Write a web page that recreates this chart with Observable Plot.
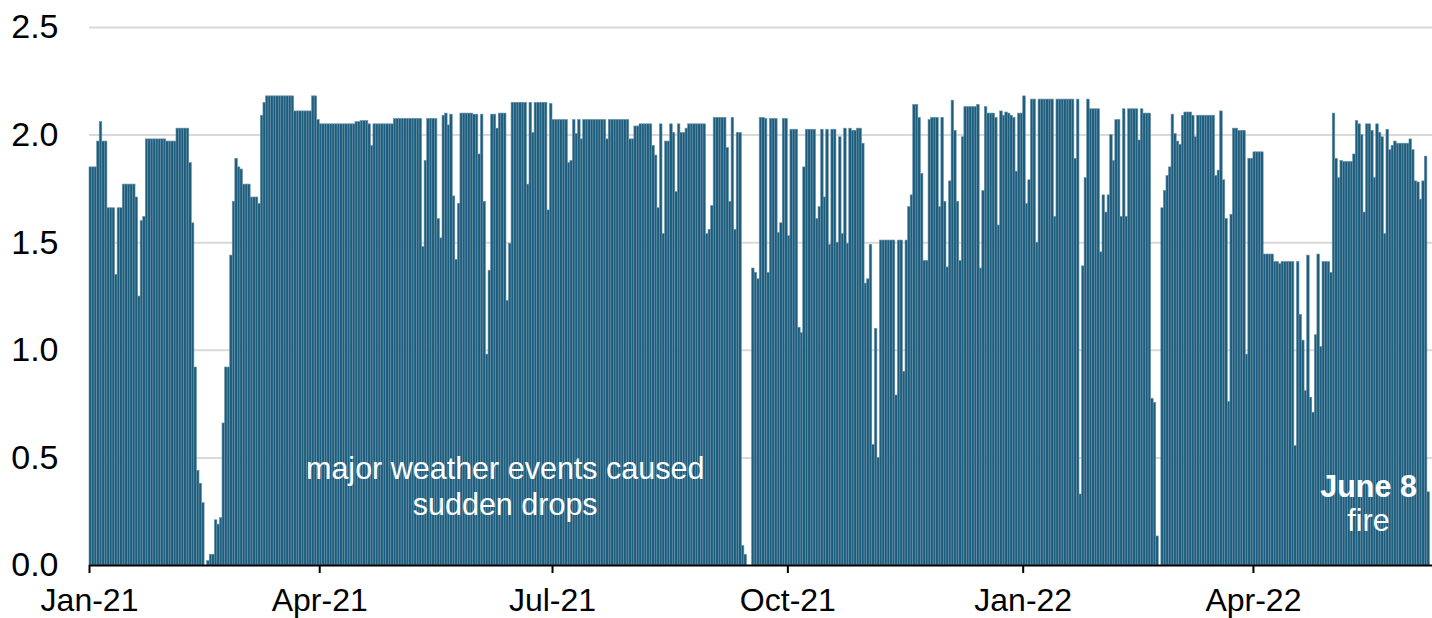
<!DOCTYPE html>
<html><head><meta charset="utf-8">
<script src="https://cdn.jsdelivr.net/npm/d3@7"></script>
<script src="https://cdn.jsdelivr.net/npm/@observablehq/plot@0.6"></script>
<style>
html,body{margin:0;padding:0;background:#fff;}
#chart{width:1432px;height:618px;overflow:hidden;}
</style></head><body><div id="chart"></div>
<script>
// Daily values starting 2021-01-01, one array per quarter
const startDate = "2021-01-01";
const q1_2021 = [
1.85,1.85,1.85,1.97,2.06,1.97,1.97,1.66,1.66,1.66,
1.35,1.66,1.66,1.77,1.77,1.77,1.77,1.77,1.71,1.25,
1.60,1.62,1.98,1.98,1.98,1.98,1.98,1.98,1.98,1.98,
1.97,1.97,1.97,1.97,2.03,2.03,2.03,2.03,2.03,1.87,
1.59,0.92,0.44,0.38,0.29,0.00,0.02,0.05,0.05,0.21,
0.19,0.22,0.66,0.92,0.92,1.44,1.69,1.89,1.85,1.84,
1.77,1.77,1.77,1.71,1.71,1.71,1.68,2.09,2.15,2.18,
2.18,2.18,2.18,2.18,2.18,2.18,2.18,2.18,2.18,2.18,
2.11,2.11,2.11,2.11,2.11,2.11,2.11,2.18,2.18,2.07];
const q2_2021 = [
2.05,2.05,2.05,2.05,2.05,2.05,2.05,2.05,2.05,2.05,
2.05,2.05,2.05,2.05,2.06,2.06,2.065,2.065,2.065,2.05,
1.95,2.05,2.05,2.05,2.05,2.05,2.05,2.05,2.05,2.075,
2.075,2.075,2.075,2.075,2.075,2.075,2.075,2.075,2.075,2.075,
1.48,1.88,2.075,2.075,2.075,2.075,1.61,1.52,2.09,2.10,
2.045,2.095,1.715,1.42,1.68,2.10,2.10,2.10,2.10,2.10,
2.095,2.095,1.91,2.095,1.69,0.98,1.37,2.095,2.095,2.03,
2.10,2.10,2.10,1.23,1.495,2.15,2.15,2.15,2.15,2.15,
2.15,1.77,2.15,2.01,2.15,2.15,2.15,2.15,2.15,1.65,
2.145];
const q3_2021 = [
2.07,2.07,2.07,2.07,2.07,2.07,1.87,1.88,2.07,
2.005,2.07,1.98,2.07,2.07,2.07,2.07,2.07,2.07,2.07,
2.07,2.07,1.98,2.07,2.07,2.07,2.07,2.07,2.07,2.07,
2.07,1.98,1.98,2.04,2.04,2.05,2.05,2.05,2.05,2.05,
1.95,1.905,1.66,2.05,1.54,1.97,1.97,2.05,2.01,1.735,
2.05,2.01,2.01,2.03,2.05,2.05,2.05,2.05,2.05,2.05,
2.05,1.54,1.56,1.67,2.08,2.08,2.08,2.08,2.08,1.94,
1.69,2.08,1.56,2.01,2.01,0.09,0.05,0.00,0.00,1.38,
1.36,1.33,2.08,2.08,2.075,1.36,2.075,2.075,2.075,1.545,
1.59,2.075,2.075];
const q4_2021 = [
1.53,2.025,2.025,2.025,1.105,1.08,1.85,
2.025,2.025,2.025,2.025,1.61,1.665,2.025,1.71,2.025,1.49,
2.025,2.025,1.50,1.99,1.54,2.03,1.495,2.03,2.02,2.02,
2.03,2.03,1.96,1.31,1.33,1.49,0.56,1.10,0.50,1.51,
1.51,1.51,1.51,1.51,1.51,0.79,1.51,1.51,0.90,1.51,
1.665,1.72,2.14,2.14,2.08,1.82,1.415,1.415,2.07,2.08,
2.08,2.08,1.665,2.08,1.69,1.385,1.785,2.16,2.02,1.69,
1.415,1.99,2.13,2.13,2.13,2.13,2.13,2.14,1.38,1.74,
2.13,2.10,2.10,2.10,2.08,1.58,2.11,2.09,2.105,2.10,
2.09,2.08,1.83,2.10,2.10];
const q1_2022 = [
2.18,1.68,1.79,2.165,2.165,
1.50,2.165,2.165,2.165,2.165,2.165,2.165,1.62,2.165,2.165,
2.165,2.165,2.165,2.165,2.165,1.89,2.165,0.33,1.39,1.80,
2.165,2.12,2.12,2.12,2.12,1.455,1.72,1.64,1.72,2.00,
1.88,2.07,2.07,1.62,2.12,1.62,2.12,2.12,2.12,2.12,
1.975,2.12,2.10,2.10,2.10,0.775,0.755,0.135,0.00,1.66,
1.74,1.81,1.85,2.095,2.005,1.97,1.955,2.09,2.105,2.105,
2.105,2.09,1.99,2.09,2.09,2.09,2.09,2.09,2.09,2.09,
1.81,1.835,2.11,1.79,1.61,0.76,1.63,2.03,2.03,2.02,
2.02,2.02,0.98,1.89,1.89];
const q2_2022 = [
1.92,1.92,1.92,1.92,1.445,
1.445,1.445,1.445,1.41,1.41,1.40,1.41,1.41,1.41,1.41,
1.41,0.555,1.41,1.165,1.045,0.81,1.44,0.78,0.71,1.07,
1.445,1.015,1.41,1.41,1.41,1.36,2.10,1.89,1.80,1.88,
1.875,1.875,1.875,1.875,1.91,2.065,2.05,2.00,1.64,2.05,
2.05,2.02,1.80,2.05,2.01,1.99,1.54,2.025,1.93,1.95,
1.97,1.96,1.96,1.96,1.96,1.96,1.98,1.93,1.785,1.78,
1.70,1.785,1.90,0.34];

const tickDates = ["2021-01-01","2021-04-01","2021-07-01","2021-10-01","2022-01-01","2022-04-01"];
const tickLabels = ["Jan-21","Apr-21","Jul-21","Oct-21","Jan-22","Apr-22"];
const yTicks = [0, 0.5, 1.0, 1.5, 2.0, 2.5];
const noteLines = ["major weather events caused", "sudden drops"];
const fireLines = ["June 8", "fire"];

const values = [].concat(q1_2021, q2_2021, q3_2021, q4_2021, q1_2022, q2_2022);
const day = 864e5;
const t0 = new Date(startDate + "T00:00:00Z").getTime();
const data = values.map((v, i) => ({date: new Date(t0 + i * day), next: new Date(t0 + (i + 1) * day), value: v}));

const labelOf = new Map(tickDates.map((d, i) => [+new Date(d + "T00:00:00Z"), tickLabels[i]]));
const D = s => new Date(s + "Z");

const chart = Plot.plot({
  width: 1432, height: 618,
  marginTop: 27, marginBottom: 53, marginLeft: 89, marginRight: 0,
  style: {fontFamily: "'Liberation Sans', Arial, sans-serif", fontSize: "34px", background: "white", color: "#000", overflow: "visible"},
  x: {type: "utc", domain: [D("2021-01-01T00:00:00"), D("2022-06-10T00:00:00")],
      ticks: tickDates.map(d => D(d + "T00:00:00")), tickFormat: d => labelOf.get(+d),
      tickSize: 8, tickPadding: 15, label: null},
  y: {domain: [0, 2.5], ticks: yTicks, tickFormat: d3.format(".1f"), tickSize: 0, tickPadding: 31, label: null},
  marks: [
    Plot.ruleY(yTicks.slice(1), {stroke: "#d9d9d9", strokeWidth: 2}),
    Plot.rectY(data, {x1: "date", x2: "next", y1: 0, y2: "value", fill: "#1c5d7d", stroke: "#6a92a8", strokeWidth: 0.6}),
    Plot.ruleY([0], {stroke: "#000", strokeWidth: 2}),
    Plot.text([noteLines[0]], {x: D("2021-06-12T12:00:00"), y: 0.448, text: d => d, fill: "white", fontSize: 30.5, textAnchor: "middle"}),
    Plot.text([noteLines[1]], {x: D("2021-06-12T12:00:00"), y: 0.28, text: d => d, fill: "white", fontSize: 30.5, textAnchor: "middle"}),
    Plot.text([fireLines[0]], {x: D("2022-05-16T00:00:00"), y: 0.364, text: d => d, fill: "white", fontSize: 30.5, fontWeight: "bold", textAnchor: "middle"}),
    Plot.text([fireLines[1]], {x: D("2022-05-16T00:00:00"), y: 0.205, text: d => d, fill: "white", fontSize: 30.5, textAnchor: "middle"})
  ]
});
document.getElementById("chart").appendChild(chart);
// style x-axis ticks and fit the tick labels inside the frame
chart.querySelectorAll('g[aria-label="x-axis"] line, g[aria-label="x-axis tick"] path').forEach(el => { el.setAttribute("stroke", "#000"); el.setAttribute("stroke-width", "2"); });
chart.querySelectorAll('g[aria-label="x-axis"] text, g[aria-label="x-axis tick label"] text').forEach(el => { el.setAttribute("font-size", "32"); });
</script>
</body></html>
